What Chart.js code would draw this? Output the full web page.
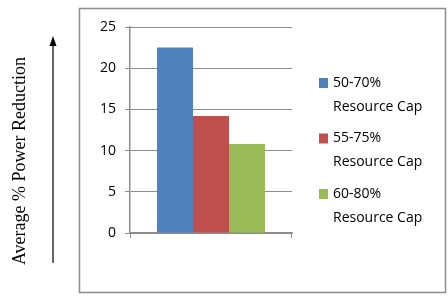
<!DOCTYPE html>
<html>
<head>
<meta charset="utf-8">
<script src="https://cdn.jsdelivr.net/npm/chart.js@4"></script>
<style>
  html, body { margin: 0; padding: 0; background: #fff; }
  #wrap { width: 448px; height: 303px; }
</style>
</head>
<body>
<div id="wrap"><canvas id="chart" width="448" height="303"></canvas></div>
<script>
// Chart data
const categories = [''];
const seriesLabels = [['50-70%', 'Resource Cap'], ['55-75%', 'Resource Cap'], ['60-80%', 'Resource Cap']];
const seriesValues = [22.5, 14.2, 10.8];
const seriesColors = ['#4F81BD', '#C0504D', '#9BBB59'];
const yMax = 25;
const yStep = 5;
const yTitle = 'Average % Power Reduction';

const tickFont = '"Open Sans", "Noto Sans", sans-serif';

// outer frame, arrow, axis title and legend are drawn around the plot
const decorPlugin = {
    id: 'decor',
    afterDraw(chart) {
        const ctx = chart.ctx;
        const area = chart.chartArea;
        ctx.save();

        // frame round the chart
        ctx.strokeStyle = '#8c8c8c';
        ctx.lineWidth = 1.5;
        ctx.strokeRect(79.5, 8.5, 366, 284);

        // small end ticks under the x axis
        ctx.lineWidth = 1;
        ctx.beginPath();
        ctx.moveTo(Math.round(area.right) - 0.5, area.bottom);
        ctx.lineTo(Math.round(area.right) - 0.5, area.bottom + 5);
        ctx.moveTo(Math.round(area.left) + 0.5, area.bottom);
        ctx.lineTo(Math.round(area.left) + 0.5, area.bottom + 5);
        ctx.stroke();

        // y title, rotated
        ctx.fillStyle = '#000';
        ctx.font = '18px "Liberation Serif", "DejaVu Serif", serif';
        ctx.textAlign = 'center';
        ctx.textBaseline = 'middle';
        ctx.translate(20, 161);
        ctx.rotate(-Math.PI / 2);
        ctx.fillText(yTitle, 0, 0);
        ctx.setTransform(1, 0, 0, 1, 0, 0);

        // upward arrow
        ctx.strokeStyle = '#000';
        ctx.lineWidth = 1.2;
        ctx.beginPath();
        ctx.moveTo(53, 263);
        ctx.lineTo(53, 44);
        ctx.stroke();
        ctx.beginPath();
        ctx.moveTo(53, 36);
        ctx.lineTo(49.5, 46);
        ctx.lineTo(56.5, 46);
        ctx.closePath();
        ctx.fillStyle = '#000';
        ctx.fill();

        // legend
        ctx.font = '14px ' + tickFont;
        ctx.textAlign = 'left';
        ctx.textBaseline = 'middle';
        chart.data.datasets.forEach((ds, i) => {
            const y0 = 83 + i * 55.5;
            ctx.fillStyle = ds.backgroundColor;
            ctx.fillRect(319, y0 - 5, 9, 10);
            ctx.fillStyle = '#000';
            ds.label.forEach((line, j) => {
                ctx.fillText(line, 333, y0 + j * 24);
            });
        });

        ctx.restore();
    }
};

const ctx = document.getElementById('chart').getContext('2d');
new Chart(ctx, {
    type: 'bar',
    data: {
        labels: categories,
        datasets: seriesValues.map((v, i) => ({
            label: seriesLabels[i],
            data: [v],
            backgroundColor: seriesColors[i],
            borderWidth: 0,
            barPercentage: 1,
            categoryPercentage: 0.667
        }))
    },
    options: {
        responsive: false,
        animation: false,
        layout: { padding: { left: 80, right: 156, top: 27, bottom: 62 } },
        plugins: {
            legend: { display: false },
            tooltip: { enabled: false }
        },
        scales: {
            x: {
                grid: { display: false },
                border: { display: true, color: '#8c8c8c', width: 1.5 },
                ticks: { display: false }
            },
            y: {
                min: 0,
                max: yMax,
                ticks: {
                    stepSize: yStep,
                    color: '#000',
                    padding: 9,
                    font: { family: tickFont, size: 14 }
                },
                grid: { color: '#8c8c8c', tickLength: 5, lineWidth: 1 },
                border: { display: true, color: '#8c8c8c', width: 1.5 },
                afterFit(scale) { scale.width = 50; }
            }
        }
    },
    plugins: [decorPlugin]
});
</script>
</body>
</html>
